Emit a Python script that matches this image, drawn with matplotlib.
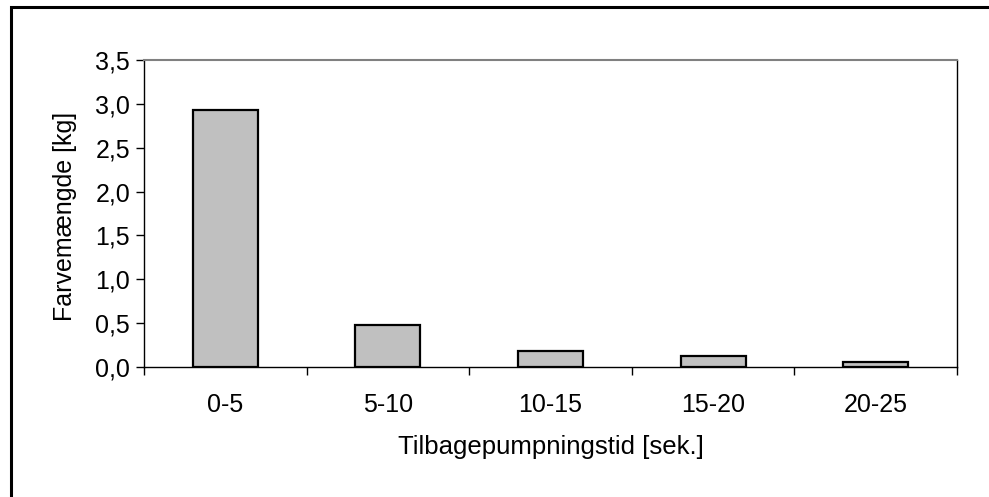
import matplotlib
matplotlib.use("Agg")
import matplotlib.pyplot as plt
from matplotlib.patches import Rectangle
from matplotlib.ticker import FixedLocator, FuncFormatter
import numpy as np

categories = ["0-5", "5-10", "10-15", "15-20", "20-25"]
values = [2.93, 0.48, 0.18, 0.13, 0.06]
yticks = [0.0, 0.5, 1.0, 1.5, 2.0, 2.5, 3.0, 3.5]

plt.rcParams['font.family'] = ['Liberation Sans', 'DejaVu Sans']

W, H = 989, 497
fig = plt.figure(figsize=(W / 100, H / 100), dpi=100)
ax = fig.add_axes([144 / W, 1 - 367 / H, (957 - 144) / W, (367 - 60) / H])

x = np.arange(len(categories))
ax.bar(x, values, width=0.4, color="#C0C0C0", edgecolor="black", linewidth=1.6, zorder=3)

ax.set_xlim(-0.5, len(categories) - 0.5)
ax.set_ylim(0, 3.5)
ax.set_yticks(yticks)
ax.yaxis.set_major_formatter(FuncFormatter(lambda v, p: f"{v:.1f}".replace(".", ",")))
ax.set_xticks(x)
ax.set_xticklabels(categories)
ax.xaxis.set_minor_locator(FixedLocator(np.arange(-0.5, len(categories), 1.0)))
ax.tick_params(axis="x", which="major", length=0, pad=19, labelsize=18)
ax.tick_params(axis="x", which="minor", length=6, width=1, direction="out")
ax.tick_params(axis="y", length=6, width=1, direction="out", labelsize=18, pad=4)

for s in ["left", "bottom"]:
    ax.spines[s].set_color("black")
    ax.spines[s].set_linewidth(1.0)
ax.spines["top"].set_color("#808080")
ax.spines["top"].set_linewidth(1.5)
ax.spines["right"].set_color("black")
ax.spines["right"].set_linewidth(1.0)

ax.set_xlabel("Tilbagepumpningstid [sek.]", fontsize=18.5)
ax.set_ylabel("Farvemængde [kg]", fontsize=18)
ax.xaxis.set_label_coords(0.5, (367 - 447) / 307)
ax.yaxis.set_label_coords((65 - 144) / 813, (367 - 216) / 307)
ax.xaxis.label.set_va("center")
ax.yaxis.label.set_va("center")

fig.patches.append(Rectangle((10.5, -20), 990, 497 - 6.5 + 20, transform=None,
                             fill=False, edgecolor="black", linewidth=2.2))

fig.savefig("out.png", dpi=100)
